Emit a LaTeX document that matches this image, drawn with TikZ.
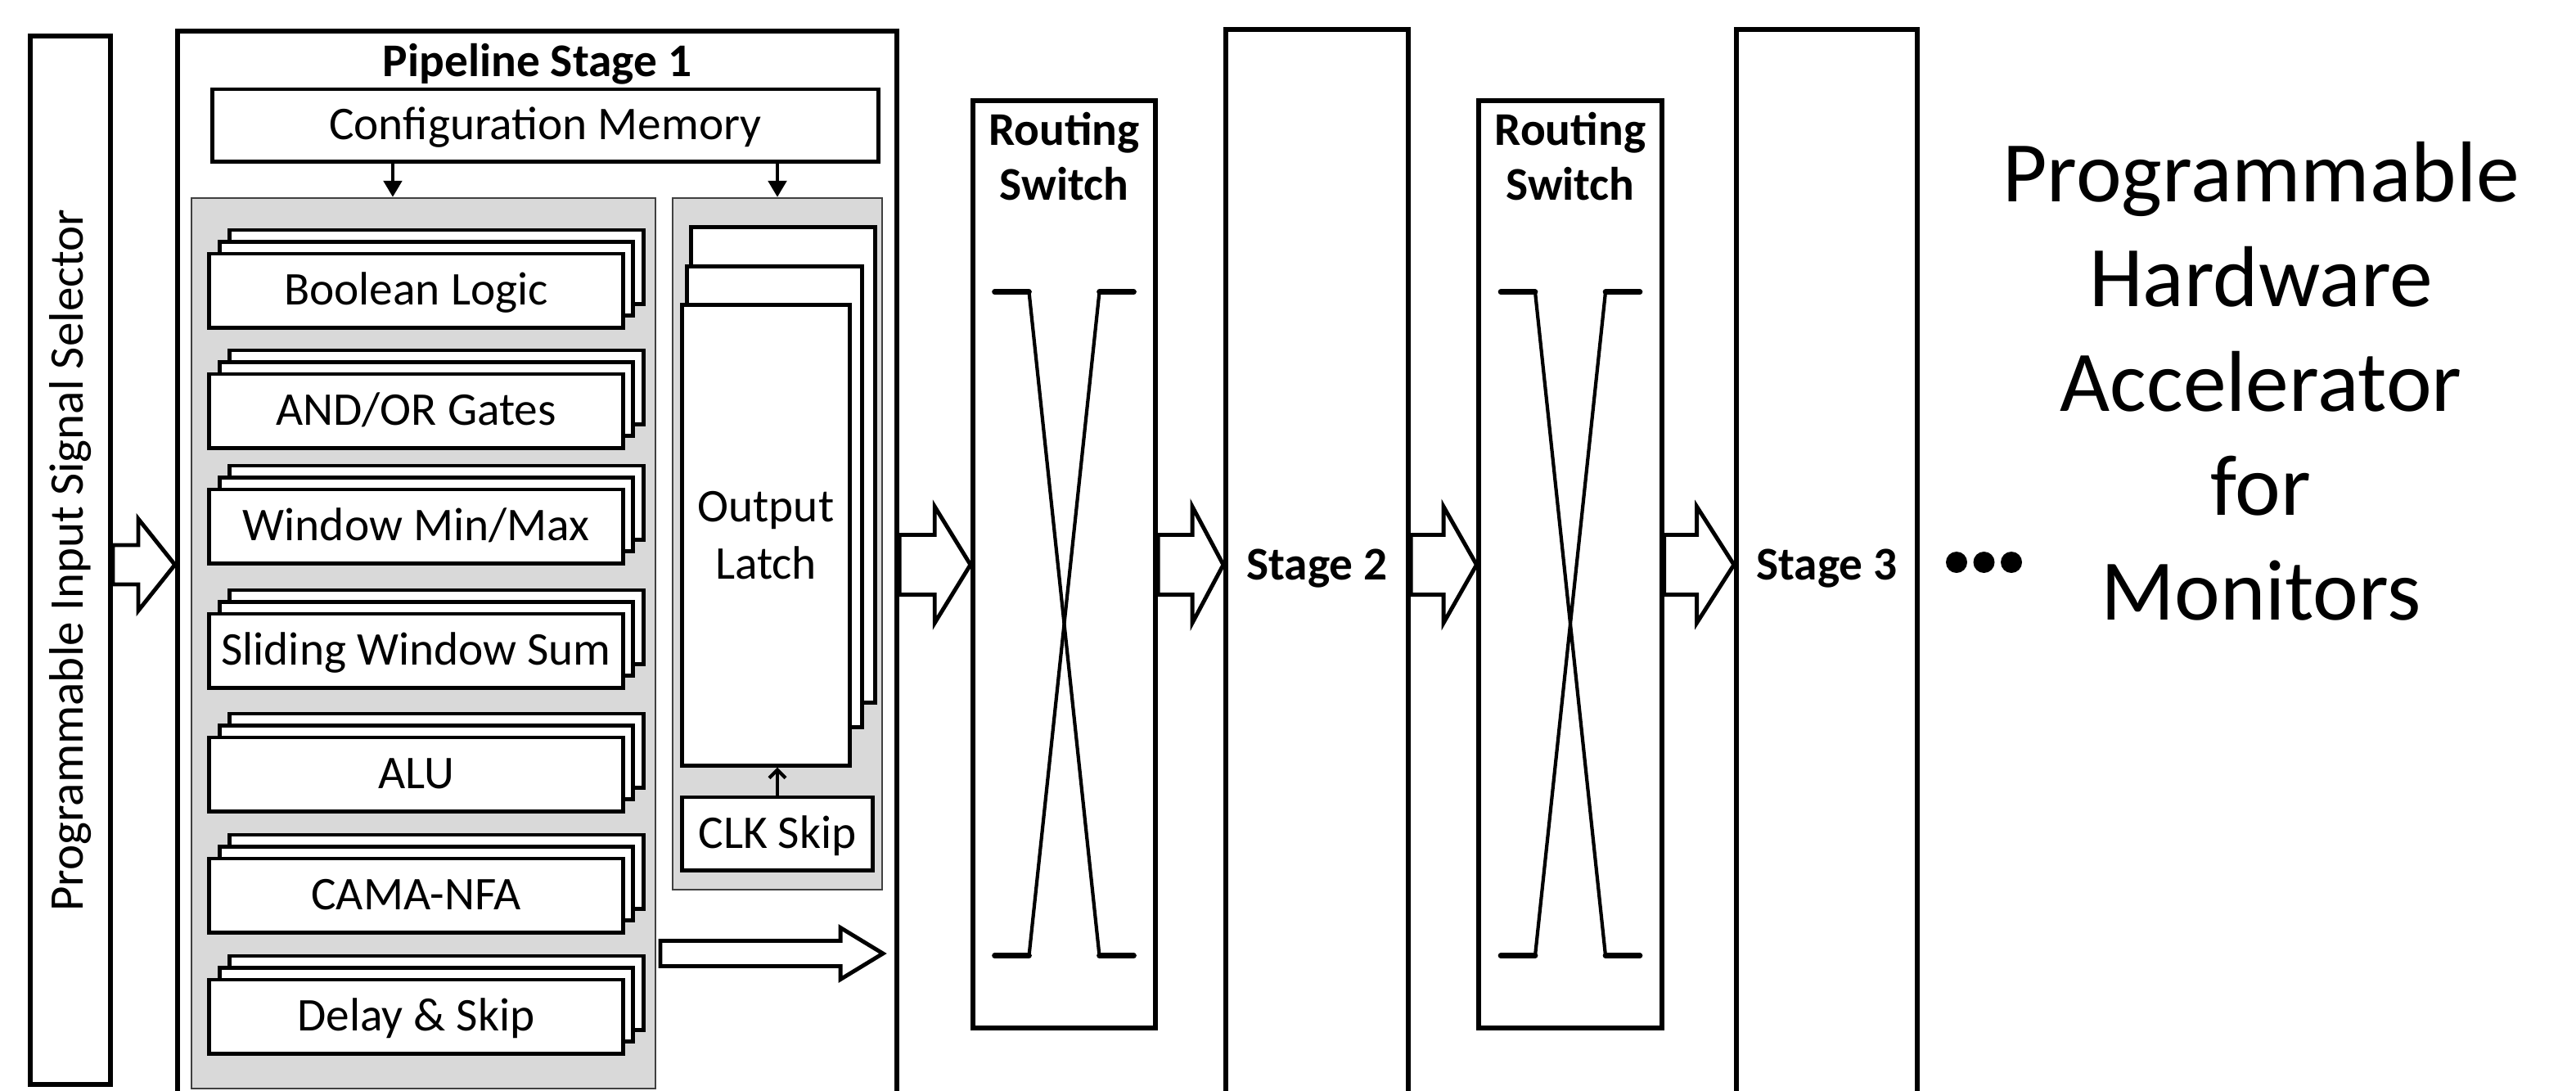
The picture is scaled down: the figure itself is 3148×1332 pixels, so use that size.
\documentclass[tikz,border=0pt]{standalone}
\usepackage{fontspec}
\setmainfont{Carlito}
\usetikzlibrary{arrows.meta,positioning,calc}
\definecolor{panelgray}{RGB}{217,217,217}
\newcommand{\lab}{\fontsize{16.3}{19.5}\selectfont}
% hollow block arrow: from, to, neck, half shaft, half head
\newcommand{\fatarrow}[5]{%
  \draw[fat] let \p1=#1, \p2=#2 in
    (\x1,\y1-#4) -- (\x1+#3,\y1-#4) -- (\x1+#3,\y1-#5) -- (\x2,\y2)
    -- (\x1+#3,\y1+#5) -- (\x1+#3,\y1+#4) -- (\x1,\y1+#4) -- cycle;}

\begin{document}
\begin{tikzpicture}[x=0.01cm,y=-0.01cm,
  box/.style={draw,line width=1.7pt,fill=white,inner sep=0pt},
  module/.style={draw,line width=1.4pt,fill=white,inner sep=0pt,minimum width=5.05cm,minimum height=0.9cm,font=\lab},
  oneline/.style={text height=10pt,text depth=0pt},
  panel/.style={draw=black!75,line width=0.5pt,fill=panelgray,inner sep=0pt},
  fat/.style={line width=1.4pt,line join=miter},
  feed/.style={line width=1.4pt,-{Triangle[width=2.2mm,length=2mm]}},
  xline/.style={line width=1.2pt},
  stub/.style={line width=1.9pt,line cap=round}]
  \useasboundingbox (0,0) rectangle (3148,1332);
  \clip (0,0) rectangle (3148,1332);
  \coordinate (flow) at (0,690);

  % input selector
  \node[box,minimum width=0.98cm,minimum height=12.81cm] (sel) at (86,684.5) {};
  \node[rotate=90,font=\fontsize{16.8}{20}\selectfont] at (sel) {Programmable Input Signal Selector};

  % pipeline stage 1
  \node[box,minimum width=8.79cm,minimum height=13.1cm] (pipe) at (656.5,693) {};
  \node[anchor=base,font=\lab\bfseries] at ([yshift=-0.59cm]pipe.north) {Pipeline Stage 1};
  \node[module,oneline,minimum width=8.13cm,minimum height=0.88cm] (cfg) at (666.5,153) {Configuration Memory};
  \node[panel,minimum width=5.67cm,minimum height=10.88cm] (funcs) at (517.5,786) {};
  \node[panel,minimum width=2.56cm,minimum height=8.45cm] (outs) at (950,664.5) {};
  \coordinate (cfgL) at ([xshift=-0.375cm]funcs.north);
  \draw[feed] (cfgL |- cfg.south) -- (cfgL);
  \draw[feed] (outs.north |- cfg.south) -- (outs.north);

  \foreach \nm/\txt/\y in {bool/Boolean Logic/355,gates/AND\slash OR Gates/502,
      minmax/Window Min\slash Max/643,sws/Sliding Window Sum/795,alu/ALU/946,
      nfa/CAMA-NFA/1094,dly/Delay \& Skip/1242} {
    \foreach \k in {2,1}
      \node[module] at (508.5+12.5*\k,\y-14.5*\k) {};
    \node[module,oneline] (\nm) at (508.5,\y) {\txt};
  }

  % output latch
  \node[module,minimum width=2.24cm,minimum height=5.8cm] at (957,568) {};
  \node[module,minimum width=2.13cm,minimum height=5.62cm] at (946.5,607) {};
  \node[module,minimum width=2.04cm,minimum height=5.62cm,align=center,font=\fontsize{16.3}{20}\selectfont] (latch) at (936,654) {Output\\Latch};
  \node[module,oneline,minimum width=2.32cm,minimum height=0.89cm] (clk) at (950,1018.5) {CLK Skip};
  \draw[line width=1.2pt,-{Straight Barb[length=1mm,width=2mm]}] (clk) -- (clk.north |- latch.south);

  \coordinate (resA) at (807,1165);
  \coordinate (resB) at (1079,1165);
  \fatarrow{(resA)}{(resB)}{2.2cm}{0.155cm}{0.315cm}

  % routing switches and later stages
  \node[box,minimum width=2.23cm,minimum height=11.33cm] (rs1) at (1300.5,689.5) {};
  \node[box,oneline,minimum width=2.23cm,minimum height=13.1cm,font=\lab\bfseries] (st2) at (1609.5,691) {Stage 2};
  \node[box,minimum width=2.23cm,minimum height=11.33cm] (rs2) at (1919,689.5) {};
  \node[box,oneline,minimum width=2.21cm,minimum height=13.1cm,font=\lab\bfseries] (st3) at (2232.5,691) {Stage 3};
  \foreach \s in {rs1,rs2} {
    \node[anchor=north,inner sep=0pt,align=center,font=\fontsize{16.3}{19}\selectfont\bfseries] at ([yshift=-0.17cm]\s.north) {Routing\\Switch};
    \draw[xline] ([shift={(-43,237)}]\s.north) -- ([shift={(43,1048)}]\s.north);
    \draw[xline] ([shift={(43,237)}]\s.north) -- ([shift={(-43,1048)}]\s.north);
    \foreach \yy in {237,1048} {
      \draw[stub] ([shift={(-85,\yy)}]\s.north) -- ++(42,0);
      \draw[stub] ([shift={(43,\yy)}]\s.north) -- ++(42,0);
    }
  }

  % block arrows between stages
  \fatarrow{(sel.east |- flow)}{(pipe.west |- flow)}{0.31cm}{0.24cm}{0.56cm}
  \fatarrow{(pipe.east |- flow)}{(rs1.west |- flow)}{0.43cm}{0.365cm}{0.71cm}
  \fatarrow{(rs1.east |- flow)}{(st2.west |- flow)}{0.42cm}{0.365cm}{0.71cm}
  \fatarrow{(st2.east |- flow)}{(rs2.west |- flow)}{0.40cm}{0.365cm}{0.71cm}
  \fatarrow{(rs2.east |- flow)}{(st3.west |- flow)}{0.40cm}{0.365cm}{0.71cm}

  \foreach \i in {0,1,2}
    \fill (2391+33.5*\i,687) circle (0.13cm);
  \node[font=\fontsize{30}{36.3}\selectfont,align=center] (title) at (2763,466) {Programmable\\Hardware\\Accelerator\\for\\Monitors};
\end{tikzpicture}
\end{document}
